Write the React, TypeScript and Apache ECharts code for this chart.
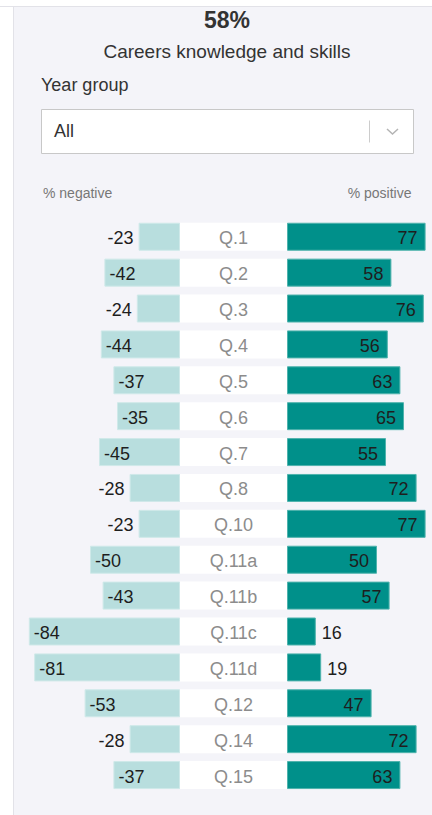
import React, { useEffect, useRef } from "react";
import * as echarts from "echarts";

const categories = ["Q.1", "Q.2", "Q.3", "Q.4", "Q.5", "Q.6", "Q.7", "Q.8", "Q.10", "Q.11a", "Q.11b", "Q.11c", "Q.11d", "Q.12", "Q.14", "Q.15"];
const negativeValues = [-23, -42, -24, -44, -37, -35, -45, -28, -23, -50, -43, -84, -81, -53, -28, -37];
const positiveValues = [77, 58, 76, 56, 63, 65, 55, 72, 77, 50, 57, 16, 19, 47, 72, 63];
const overallScore = "58%";
const title = "Careers knowledge and skills";
const filterLabel = "Year group";
const filterValue = "All";

const FONT = "Arial, 'Liberation Sans', sans-serif";

export default function App() {
  const ref = useRef<HTMLDivElement>(null);
  useEffect(() => {
    if (!ref.current) return;
    const chart = echarts.init(ref.current, null, { renderer: "svg" });
    const top = 218.8;
    const height = 574.2;
    const catAxis = (gi: number) => ({
      type: "category",
      gridIndex: gi,
      data: categories,
      inverse: true,
      show: false,
    });
    const labelCommon = { fontFamily: FONT, fontSize: 18, color: "#1e1e1e", offset: [0, 1.5] };
    chart.setOption({
      animation: false,
      backgroundColor: "#ffffff",
      grid: [
        { left: 0, width: 180, top, height },
        { left: 180, width: 107, top, height },
        { left: 287, width: 144, top, height },
      ],
      xAxis: [
        { type: "value", gridIndex: 0, min: -100, max: 0, show: false },
        { type: "value", gridIndex: 1, min: 0, max: 1, show: false },
        { type: "value", gridIndex: 2, min: 0, max: 80, show: false },
      ],
      yAxis: [catAxis(0), catAxis(1), catAxis(2)],
      graphic: [
        { type: "rect", silent: true, z: -10, shape: { x: 13, y: 6, width: 420, height: 810 }, style: { fill: "#f4f4f9" } },
        { type: "line", silent: true, z: -9, shape: { x1: 0, y1: 6.5, x2: 432, y2: 6.5 }, style: { stroke: "#e2e2e8", lineWidth: 1 } },
        { type: "line", silent: true, z: -9, shape: { x1: 13.5, y1: 6, x2: 13.5, y2: 815 }, style: { stroke: "#e2e2e8", lineWidth: 1 } },
        { type: "text", x: 227, y: 20, style: { text: overallScore, fontFamily: FONT, fontSize: 23, fontWeight: "bold", fill: "#333", align: "center", verticalAlign: "middle" } },
        { type: "text", x: 227, y: 51, style: { text: title, fontFamily: FONT, fontSize: 19, fill: "#333", align: "center", verticalAlign: "middle" } },
        { type: "text", x: 41, y: 85, style: { text: filterLabel, fontFamily: FONT, fontSize: 18, fill: "#333", align: "left", verticalAlign: "middle" } },
        { type: "rect", shape: { x: 41.5, y: 109.5, width: 372, height: 44 }, style: { fill: "#ffffff", stroke: "#c8c8c8", lineWidth: 1 } },
        { type: "text", x: 54, y: 131, style: { text: filterValue, fontFamily: FONT, fontSize: 18, fill: "#333", align: "left", verticalAlign: "middle" } },
        { type: "line", shape: { x1: 369.5, y1: 120.5, x2: 369.5, y2: 142.5 }, style: { stroke: "#cccccc", lineWidth: 1 } },
        { type: "polyline", shape: { points: [[387, 129], [392.5, 134], [398, 129]] }, style: { stroke: "#b4b4b4", lineWidth: 1.5, fill: "none" } },
        { type: "text", x: 43, y: 193, style: { text: "% negative", fontFamily: FONT, fontSize: 14, fill: "#777", align: "left", verticalAlign: "middle" } },
        { type: "text", x: 411.5, y: 193, style: { text: "% positive", fontFamily: FONT, fontSize: 14, fill: "#777", align: "right", verticalAlign: "middle" } },
      ],
      series: [
        {
          type: "bar",
          xAxisIndex: 0,
          yAxisIndex: 0,
          barWidth: 28,
          itemStyle: { color: "#b8dede", borderColor: "#cfe9e9", borderWidth: 1 },
          data: negativeValues.map((v) => ({
            value: v,
            label: Math.abs(v) < 30 ? { position: "left", distance: 5 } : { position: "insideLeft", distance: 5 },
          })),
          label: { show: true, ...labelCommon },
        },
        {
          type: "bar",
          xAxisIndex: 1,
          yAxisIndex: 1,
          barWidth: 28,
          itemStyle: { color: "#ffffff" },
          data: categories.map(() => 1),
          label: { show: true, position: "inside", formatter: "{b}", fontFamily: FONT, fontSize: 18, color: "#8c8c8c", offset: [0, 1.5] },
        },
        {
          type: "bar",
          xAxisIndex: 2,
          yAxisIndex: 2,
          barWidth: 28,
          itemStyle: { color: "#00908a", borderColor: "#4fb3ad", borderWidth: 1 },
          data: positiveValues.map((v) => ({
            value: v,
            label: v < 30 ? { position: "right", distance: 6 } : { position: "insideRight", distance: 8 },
          })),
          label: { show: true, ...labelCommon },
        },
      ],
    });
    return () => chart.dispose();
  }, []);
  return <div ref={ref} style={{ position: "absolute", left: 0, top: 0, width: 432, height: 815 }} />;
}
